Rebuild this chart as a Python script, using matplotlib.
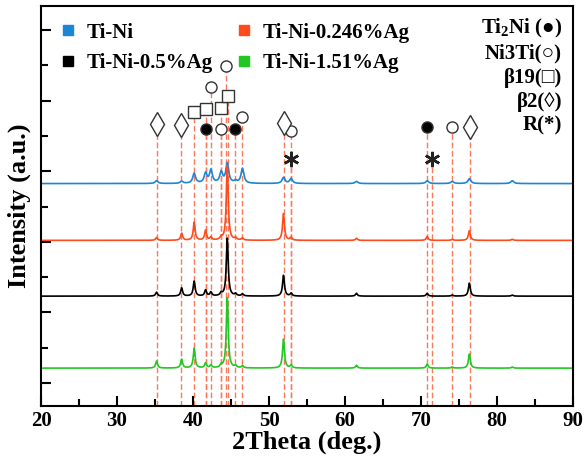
"""
XRD patterns of Ti-Ni alloys with different Ag additions
"""

import numpy as np
import matplotlib
matplotlib.use("Agg")
import matplotlib.pyplot as plt
from matplotlib.lines import Line2D

plt.rcParams['font.family'] = ['Liberation Serif', 'DejaVu Sans']
plt.rcParams['font.weight'] = 'bold'
plt.rcParams['mathtext.fontset'] = 'custom'
plt.rcParams['mathtext.rm'] = 'Liberation Serif:bold'
plt.rcParams['mathtext.bf'] = 'Liberation Serif:bold'

# Peak centres (2theta) shared by all patterns
peak_pos = [35.2, 38.5, 40.15, 41.65, 42.35, 43.7, 44.5, 45.6, 46.5,
            51.9, 52.9, 61.5, 70.8, 74.1, 76.35, 82.0]

# Peak heights (a.u., one minor tick = 1)
h_tini = [0.08, 0.06, 0.28, 0.28, 0.37, 0.31, 0.56, 0.06, 0.42,
          0.17, 0.14, 0.06, 0.08, 0.06, 0.14, 0.08]
h_ag0246 = [0.08, 0.20, 0.51, 0.28, 0.08, 0.08, 2.12, 0.06, 0.06,
            0.76, 0.08, 0.06, 0.11, 0.03, 0.28, 0.03]
h_ag05 = [0.11, 0.23, 0.42, 0.17, 0.11, 0.08, 1.64, 0.06, 0.06,
          0.59, 0.08, 0.08, 0.08, 0.03, 0.37, 0.03]
h_ag151 = [0.20, 0.25, 0.56, 0.14, 0.08, 0.08, 2.00, 0.06, 0.06,
           0.82, 0.08, 0.08, 0.11, 0.03, 0.40, 0.03]

labels = ['Ti-Ni', 'Ti-Ni-0.246%Ag', 'Ti-Ni-0.5%Ag', 'Ti-Ni-1.51%Ag']
offsets = [5.65, 4.04, 2.46, 0.42]
widths = [0.45, 0.3, 0.3, 0.3]
colors = ['#1a86d6', '#ff4a1c', '#000000', '#22c822']

# Phase markers: 2theta and height of the symbol
ti2ni_x = [41.67, 45.57, 70.79]
ti2ni_y = [7.20, 7.20, 7.26]
ni3ti_x = [42.33, 43.73, 44.40, 46.49, 52.93, 74.07]
ni3ti_y = [8.39, 7.20, 8.98, 7.54, 7.15, 7.26]
b19_x = [40.13, 41.67, 43.73, 44.60]
b19_y = [7.68, 7.77, 7.80, 8.14]
b2_x = [35.24, 38.48, 51.95, 76.47]
b2_y = [7.34, 7.32, 7.37, 7.26]
r_x = [52.93, 71.44]
r_y = [6.36, 6.36]

YMIN, YMAX = -0.65, 10.68
LINE_COLOR = '#fb7a5c'


def pattern(x, heights, width):
    y = np.zeros_like(x)
    for c, h in zip(peak_pos, heights):
        y += h / (1 + ((x - c) / (width / 2)) ** 2)
    return y


fig = plt.figure(figsize=(5.86, 4.66), dpi=100)
ax = fig.add_axes([0.070, 0.129, 0.908, 0.858])

# dashed reference lines up to each phase symbol
for xs, ys in [(ti2ni_x, ti2ni_y), (ni3ti_x, ni3ti_y), (b19_x, b19_y),
               (b2_x, b2_y), (r_x, r_y)]:
    for xv, yv in zip(xs, ys):
        ax.plot([xv, xv], [YMIN, yv], color=LINE_COLOR, lw=1.0,
                dashes=(4, 2), zorder=1)

x = np.linspace(20, 90, 3500)
heights = [h_tini, h_ag0246, h_ag05, h_ag151]
for h, off, w, col in zip(heights, offsets, widths, colors):
    ax.plot(x, pattern(x, h, w) + off, color=col, lw=1.2, zorder=2)

mk = dict(linestyle='none', markeredgecolor='#333333', markeredgewidth=1.0, zorder=3)
ax.plot(ti2ni_x, ti2ni_y, marker='o', ms=8, markerfacecolor='black', **mk)
ax.plot(ni3ti_x, ni3ti_y, marker='o', ms=8, markerfacecolor='white', **mk)
ax.plot(b19_x, b19_y, marker='s', ms=9, markerfacecolor='white', **mk)
ax.plot(b2_x, b2_y, marker='d', ms=12, markerfacecolor='white', **mk)
ax.plot(r_x, r_y, marker=(6, 2, 0), ms=11, markeredgewidth=1.8,
        linestyle='none', color='#222222', zorder=3)

ax.set_xlim(20, 90)
ax.set_ylim(YMIN, YMAX)
ax.set_xticks(np.arange(20, 91, 10))
ax.set_xticks(np.arange(25, 90, 10), minor=True)
ax.set_yticks(np.arange(0, 11, 2))
ax.set_yticks(np.arange(1, 11, 2), minor=True)
ax.set_yticklabels([])
ax.tick_params(which='major', direction='in', length=7, width=1.5, labelsize=15)
ax.tick_params(which='minor', direction='in', length=5, width=1.5)
for s in ax.spines.values():
    s.set_linewidth(1.5)

ax.set_xlabel('2Theta (deg.)', fontsize=19, fontweight='bold', labelpad=0)
ax.set_ylabel('Intensity (a.u.)', fontsize=19, fontweight='bold', labelpad=4)

handles = [Line2D([], [], linestyle='none', marker='s', ms=7,
                  color=c) for c in colors]
order = [0, 2, 1, 3]
ax.legend([handles[i] for i in order], [labels[i] for i in order], ncol=2,
          loc='upper left', bbox_to_anchor=(0.0, 1.0), frameon=False,
          prop={'size': 15, 'weight': 'bold'}, handletextpad=0.4,
          columnspacing=1.0, labelspacing=0.5, handlelength=1.0,
          borderaxespad=0.4)

phase_text = ['Ti$_2$Ni (\u25CF)', 'Ni3Ti(\u25CB)', '\u03B219(\u25A1)',
              '\u03B22(\u25CA)', 'R(*)']
phase_y = [28, 53, 78, 102, 125]
for t, yp in zip(phase_text, phase_y):
    fig.text(562 / 586, 1 - yp / 466, t, ha='right', va='center',
             fontsize=15, fontweight='bold')

fig.savefig('out.png', dpi=100)
